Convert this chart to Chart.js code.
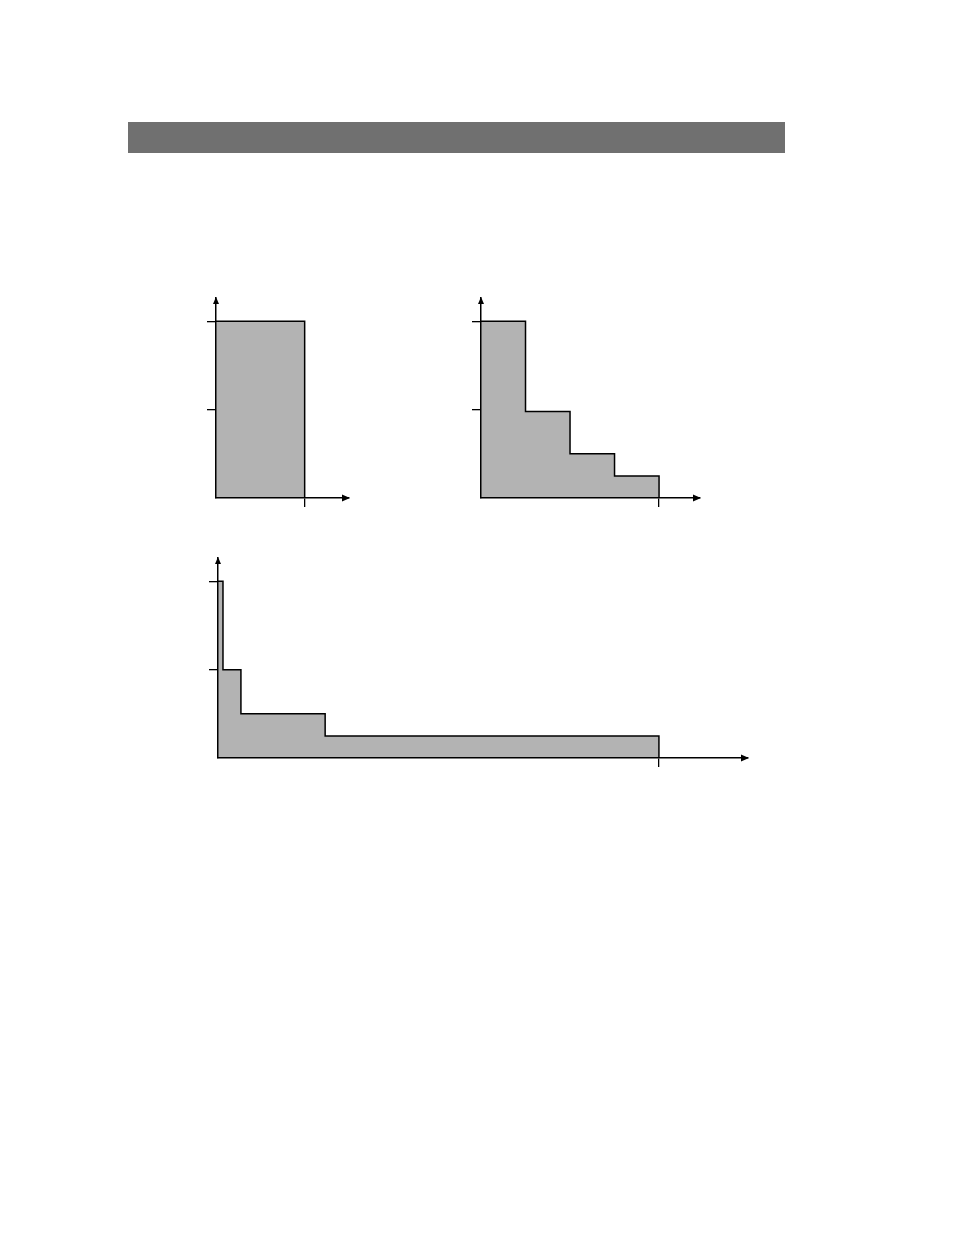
<!DOCTYPE html>
<html>
<head>
<meta charset="utf-8">
<script src="https://cdn.jsdelivr.net/npm/chart.js@4/dist/chart.umd.min.js"></script>
<style>
  html, body { margin: 0; padding: 0; background: #fff; }
  body { width: 954px; height: 1235px; position: relative; overflow: hidden; font-family: "Liberation Sans", Arial, sans-serif; }
  .bar { position: absolute; left: 128px; top: 122px; width: 657px; height: 31px; background: #707070; }
  .box { position: absolute; }
  #b1 { left: 207px; top: 294px; width: 146px; height: 213px; }
  #b2 { left: 472px; top: 294px; width: 232px; height: 213px; }
  #b3 { left: 209px; top: 554px; width: 543px; height: 213px; }
</style>
</head>
<body>
<div class="bar"></div>
<div class="box" id="b1"><canvas id="c1"></canvas></div>
<div class="box" id="b2"><canvas id="c2"></canvas></div>
<div class="box" id="b3"><canvas id="c3"></canvas></div>
<script>
// ---- data ----
const chart1X = [0, 2];
const chart1Y = [1, 0];
const chart1XMax = 3.0;

const chart2X = [0, 1, 2, 3, 4];
const chart2Y = [1, 0.49, 0.25, 0.125, 0];
const chart2XMax = 4.92;

const chart3X = [0, 0.113, 0.52, 2.43, 10];
const chart3Y = [1, 0.5, 0.25, 0.125, 0];
const chart3XMax = 12.02;

const yTickValues = [0.5, 1];
const yMax = 1.132;

const fillColor = '#b3b3b3';
const inkColor = '#000000';

const arrowPlugin = {
  id: 'axisArrows',
  afterDraw(chart) {
    const ctx = chart.ctx;
    const xs = chart.scales.x, ys = chart.scales.y;
    const ox = xs.left, oy = ys.bottom;
    const topY = ys.top, rightX = xs.right;
    ctx.save();
    ctx.fillStyle = inkColor;
    // up arrow
    ctx.beginPath();
    ctx.moveTo(ox, topY - 1);
    ctx.lineTo(ox - 3, topY + 6);
    ctx.lineTo(ox + 3, topY + 6);
    ctx.closePath();
    ctx.fill();
    // right arrow
    ctx.beginPath();
    ctx.moveTo(rightX + 1, oy);
    ctx.lineTo(rightX - 7, oy - 3.5);
    ctx.lineTo(rightX - 7, oy + 3.5);
    ctx.closePath();
    ctx.fill();
    ctx.restore();
  }
};

function makeChart(id, xs, ys, xMax) {
  const pts = xs.map((x, i) => ({ x: x, y: ys[i] }));
  const endX = xs[xs.length - 1];
  return new Chart(document.getElementById(id), {
    type: 'line',
    data: {
      datasets: [{
        data: pts,
        stepped: 'before',
        fill: 'origin',
        backgroundColor: fillColor,
        borderColor: inkColor,
        borderWidth: 1.5,
        pointRadius: 0,
        pointHoverRadius: 0
      }]
    },
    options: {
      responsive: true,
      maintainAspectRatio: false,
      animation: false,
      events: [],
      layout: { autoPadding: false, padding: { top: 4, right: 4, left: 0, bottom: 0 } },
      plugins: { legend: { display: false }, tooltip: { enabled: false } },
      scales: {
        x: {
          type: 'linear',
          min: 0,
          max: xMax,
          afterBuildTicks: (s) => { s.ticks = [{ value: endX }]; },
          ticks: { display: false },
          grid: { display: true, z: 1, drawOnChartArea: false, drawTicks: true, tickLength: 9, color: inkColor, lineWidth: 1.3 },
          border: { display: true, z: 1, color: inkColor, width: 1.5 }
        },
        y: {
          type: 'linear',
          min: 0,
          max: yMax,
          afterBuildTicks: (s) => { s.ticks = yTickValues.map(v => ({ value: v })); },
          ticks: { display: false },
          grid: { display: true, z: 1, drawOnChartArea: false, drawTicks: true, tickLength: 9, color: inkColor, lineWidth: 1.3 },
          border: { display: true, z: 1, color: inkColor, width: 1.5 }
        }
      }
    },
    plugins: [arrowPlugin]
  });
}

makeChart('c1', chart1X, chart1Y, chart1XMax);
makeChart('c2', chart2X, chart2Y, chart2XMax);
makeChart('c3', chart3X, chart3Y, chart3XMax);
</script>
</body>
</html>
